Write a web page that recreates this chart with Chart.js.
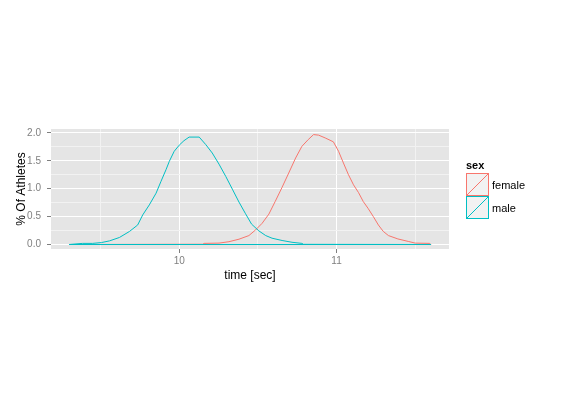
<!DOCTYPE html>
<html>
<head>
<meta charset="utf-8">
<script src="https://cdn.jsdelivr.net/npm/chart.js@4"></script>
<style>
  html, body { margin: 0; padding: 0; background: #ffffff; }
  #wrap { width: 561px; height: 405px; }
</style>
</head>
<body>
<div id="wrap"><canvas id="c" width="561" height="405"></canvas></div>
<script>
// ---- data ----
const seriesNames = ['female', 'male'];
const seriesColors = ['#F8766D', '#00BFC4'];

const femaleTime = [9.30, 10.15, 10.158, 10.253, 10.316, 10.38, 10.443, 10.485, 10.527, 10.57, 10.61, 10.654, 10.696, 10.74, 10.78, 10.82, 10.854, 10.886, 10.928, 10.98, 11.013, 11.044, 11.076, 11.108, 11.14, 11.17, 11.2, 11.234, 11.266, 11.297, 11.33, 11.39, 11.456, 11.5, 11.593, 11.60, 9.30];
const femaleVal  = [0, 0.005, 0.02, 0.025, 0.05, 0.095, 0.16, 0.26, 0.38, 0.545, 0.77, 1.025, 1.28, 1.55, 1.76, 1.88, 1.97, 1.96, 1.91, 1.84, 1.67, 1.46, 1.25, 1.07, 0.93, 0.77, 0.65, 0.50, 0.35, 0.235, 0.16, 0.10, 0.055, 0.025, 0.02, 0, 0];

const maleTime = [9.30, 9.386, 9.45, 9.506, 9.557, 9.62, 9.684, 9.736, 9.768, 9.81, 9.853, 9.884, 9.916, 9.937, 9.968, 10.0, 10.03, 10.063, 10.127, 10.169, 10.21, 10.253, 10.296, 10.34, 10.38, 10.42, 10.46, 10.506, 10.55, 10.59, 10.654, 10.717, 10.78, 10.79, 11.60, 9.30];
const maleVal  = [0, 0.02, 0.02, 0.035, 0.065, 0.126, 0.234, 0.35, 0.53, 0.71, 0.92, 1.13, 1.34, 1.49, 1.67, 1.78, 1.86, 1.925, 1.925, 1.79, 1.64, 1.44, 1.22, 0.98, 0.76, 0.56, 0.365, 0.245, 0.16, 0.113, 0.072, 0.04, 0.02, 0.003, 0, 0];

const xTicks = [9.5, 10, 10.5, 11, 11.5];
const xTickLabels = ['', '10', '', '11', ''];
const yTicks = [0, 0.25, 0.5, 0.75, 1.0, 1.25, 1.5, 1.75, 2.0];
const yTickLabels = ['0.0', '', '0.5', '', '1.0', '', '1.5', '', '2.0'];

const xTitle = 'time [sec]';
const yTitle = '% Of Athletes';
const legendTitle = 'sex';

// ---- helpers ----
function toPoints(xs, ys) { return xs.map((x, i) => ({ x: x, y: ys[i] })); }
function labelFor(ticksArr, labels, v) {
  const i = ticksArr.findIndex(t => Math.abs(t - v) < 1e-9);
  return i >= 0 ? labels[i] : '';
}
function isHalf(v) { return Math.abs(v * 2 - Math.round(v * 2)) < 1e-9; }

const panelBg = {
  id: 'panelBg',
  beforeDraw(chart) {
    const { ctx, chartArea: a } = chart;
    ctx.save();
    ctx.fillStyle = '#E5E5E5';
    ctx.fillRect(a.left, a.top, a.right - a.left, a.bottom - a.top);
    ctx.restore();
  }
};

const ggLegend = {
  id: 'ggLegend',
  afterDraw(chart) {
    const ctx = chart.ctx;
    const x0 = 466, y0 = 173, size = 23;
    ctx.save();
    ctx.fillStyle = '#000000';
    ctx.font = 'bold 11px "Liberation Sans", Arial, sans-serif';
    ctx.textBaseline = 'alphabetic';
    ctx.textAlign = 'left';
    ctx.fillText(legendTitle, x0, 169);
    chart.data.datasets.forEach((ds, i) => {
      const y = y0 + i * size;
      ctx.fillStyle = '#F2F2F2';
      ctx.fillRect(x0, y, size, size);
      ctx.strokeStyle = ds.borderColor;
      ctx.lineWidth = 1;
      ctx.strokeRect(x0 + 0.5, y + 0.5, size - 1, size - 1);
      ctx.beginPath();
      ctx.moveTo(x0 + 1, y + size - 1);
      ctx.lineTo(x0 + size - 1, y + 1);
      ctx.stroke();
      ctx.fillStyle = '#000000';
      ctx.font = '11px "Liberation Sans", Arial, sans-serif';
      ctx.textBaseline = 'middle';
      ctx.fillText(ds.label, x0 + size + 3, y + size / 2 + 1);
    });
    ctx.restore();
  }
};

const tickFont = { family: '"Liberation Sans", Arial, sans-serif', size: 10 };
const titleFont = { family: '"Liberation Sans", Arial, sans-serif', size: 12 };

new Chart(document.getElementById('c'), {
  type: 'line',
  data: {
    datasets: [
      {
        label: seriesNames[0],
        data: toPoints(femaleTime, femaleVal),
        borderColor: seriesColors[0],
        borderWidth: 1,
        pointRadius: 0,
        fill: false,
        tension: 0,
        order: 1
      },
      {
        label: seriesNames[1],
        data: toPoints(maleTime, maleVal),
        borderColor: seriesColors[1],
        borderWidth: 1,
        pointRadius: 0,
        fill: false,
        tension: 0,
        order: 0
      }
    ]
  },
  options: {
    responsive: false,
    devicePixelRatio: 1,
    animation: false,
    layout: { padding: { left: 0, top: 129, right: 112, bottom: 116 } },
    plugins: { legend: { display: false }, tooltip: { enabled: false } },
    scales: {
      x: {
        type: 'linear',
        min: 9.185,
        max: 11.715,
        afterBuildTicks(scale) { scale.ticks = xTicks.map(v => ({ value: v })); },
        afterFit(scale) { scale.height = 40; },
        border: { display: false },
        grid: {
          color: c => (c.tick && Number.isInteger(c.tick.value)) ? '#FFFFFF' : '#F2F2F2',
          lineWidth: 1,
          tickColor: c => (c.tick && Number.isInteger(c.tick.value)) ? '#7F7F7F' : 'rgba(0,0,0,0)',
          tickLength: 4,
          drawTicks: true
        },
        ticks: {
          autoSkip: false,
          maxRotation: 0,
          padding: 2,
          color: '#7F7F7F',
          font: tickFont,
          callback: v => labelFor(xTicks, xTickLabels, v)
        },
        title: {
          display: true,
          text: xTitle,
          color: '#000000',
          font: titleFont,
          padding: { top: 0, bottom: 6 }
        }
      },
      y: {
        type: 'linear',
        min: -0.0806,
        max: 2.07,
        afterBuildTicks(scale) { scale.ticks = yTicks.map(v => ({ value: v })); },
        afterFit(scale) { scale.width = 51; },
        border: { display: false },
        grid: {
          color: c => (c.tick && isHalf(c.tick.value)) ? '#FFFFFF' : '#F2F2F2',
          lineWidth: 1,
          tickColor: c => (c.tick && isHalf(c.tick.value)) ? '#7F7F7F' : 'rgba(0,0,0,0)',
          tickLength: 4,
          drawTicks: true
        },
        ticks: {
          autoSkip: false,
          padding: 6,
          color: '#7F7F7F',
          font: tickFont,
          callback: v => labelFor(yTicks, yTickLabels, v)
        },
        title: {
          display: true,
          text: yTitle,
          color: '#000000',
          font: titleFont,
          padding: { top: 14, bottom: 0 }
        }
      }
    }
  },
  plugins: [panelBg, ggLegend]
});
</script>
</body>
</html>
